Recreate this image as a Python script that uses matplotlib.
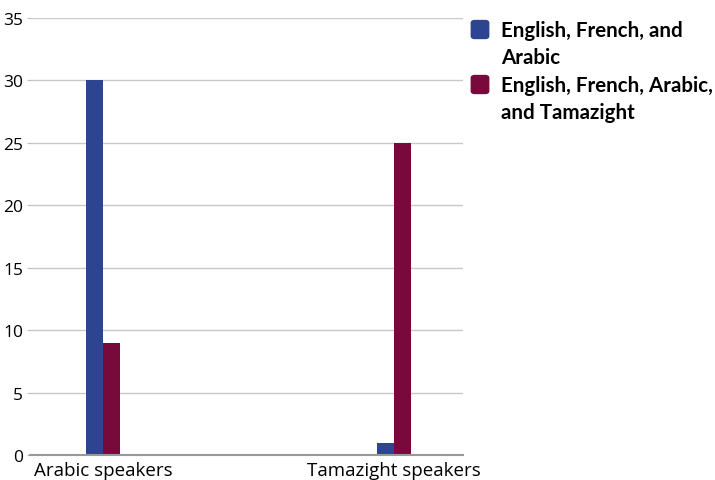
import matplotlib.pyplot as plt
from matplotlib.patches import FancyBboxPatch
import numpy as np

categories = ['Arabic speakers', 'Tamazight speakers']
series_names = ['English, French, and\nArabic', 'English, French, Arabic,\nand Tamazight']
eng_fr_ar = [30, 1]
eng_fr_ar_tam = [9, 25]
colors = ['#2d4491', '#780a3b']

plt.rcParams['font.family'] = ['Open Sans', 'DejaVu Sans']

fig = plt.figure(figsize=(7.15, 4.81), dpi=100)
ax = fig.add_axes([30 / 715, 25 / 481, 433 / 715, 437 / 481])

x = np.arange(len(categories))
w = 0.058
ax.bar(x - w / 2, eng_fr_ar, w, color=colors[0], zorder=3)
ax.bar(x + w / 2, eng_fr_ar_tam, w, color=colors[1], zorder=3)

ax.set_xlim(-0.251, 1.237)
ax.set_ylim(0, 35)
ax.set_yticks(range(0, 36, 5))
ax.set_xticks(x)
ax.set_xticklabels(categories, fontsize=13.5)
ax.tick_params(axis='y', length=2, color='#c0c0c0', labelsize=12.5, pad=3)
ax.tick_params(axis='x', length=0, pad=4)
ax.yaxis.grid(True, color='#c8c8c8', linewidth=1)
for s in ['top', 'right', 'left']:
    ax.spines[s].set_visible(False)
ax.spines['bottom'].set_color('#999999')
ax.spines['bottom'].set_linewidth(1.5)
ax.spines['bottom'].set_zorder(4)

# legend drawn by hand: rounded squares and bold wrapped text
for i, (name, c) in enumerate(zip(series_names, colors)):
    y0 = 481 - 39 - i * 55
    fig.patches.append(FancyBboxPatch((472 / 715, y0 / 481), 16 / 715, 17 / 481,
                                      boxstyle='round,pad=0.001,rounding_size=0.005',
                                      transform=fig.transFigure, color=c))
    fig.text(501 / 715, (481 - 21 - i * 55) / 481, name, fontsize=14.8, fontweight='bold',
             family=['Lato', 'DejaVu Sans'], va='top', ha='left', linespacing=1.42)

fig.savefig('out.png', dpi=100)
